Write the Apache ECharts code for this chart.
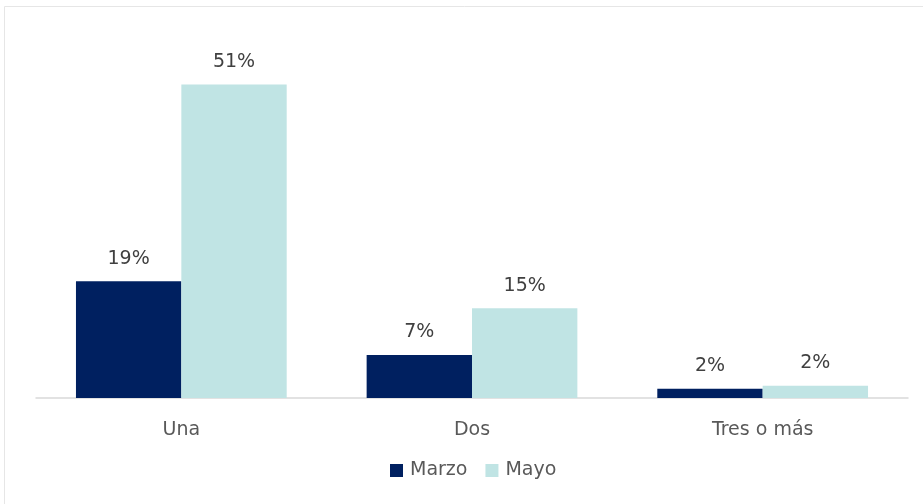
<!DOCTYPE html>
<html>
<head>
<meta charset="utf-8">
<script src="https://cdn.jsdelivr.net/npm/echarts@6/dist/echarts.min.js"></script>
<style>
    html, body {margin: 0; padding: 0; background: #fff;}
    #main {width: 923px; height: 504px;}
</style>
</head>
<body>
<div id="main"></div>
<script>
let categories = ['Una', 'Dos', 'Tres o más'];
let marzo = [19, 7, 1.5];
let mayo = [51, 14.6, 2];
let seriesNames = ['Marzo', 'Mayo'];

let myChart = echarts.init(document.getElementById('main'));

let font = 'DejaVu Sans';

let barLabel = {
    show: true,
    position: 'top',
    distance: 13,
    color: '#404040',
    fontSize: 19,
    fontFamily: font,
    formatter: (p) => Math.round(p.value) + '%'
};

let option = {
    animation: false,
    graphic: [{
        type: 'rect',
        shape: {x: 4.5, y: 6.5, width: 940, height: 520},
        style: {fill: 'none', stroke: '#e6e6e6', lineWidth: 1}
    }],
    legend: {
        data: seriesNames,
        left: 385,
        top: 456,
        itemWidth: 13,
        itemHeight: 13,
        itemGap: 18,
        icon: 'rect',
        textStyle: {color: '#595959', fontSize: 19, fontFamily: font, padding: [0, 0, 0, 2]}
    },
    grid: {left: 36, right: 15, top: 60, bottom: 106},
    xAxis: {
        type: 'category',
        data: categories,
        axisTick: {show: false},
        axisLine: {lineStyle: {color: '#d9d9d9', width: 1.5}},
        axisLabel: {color: '#595959', fontSize: 19, fontFamily: font, margin: 23}
    },
    yAxis: {
        type: 'value',
        min: 0,
        max: 55,
        show: false
    },
    series: [{
        name: seriesNames[0],
        type: 'bar',
        data: marzo,
        barGap: '0%',
        barCategoryGap: '27.5%',
        itemStyle: {color: '#002060'},
        label: barLabel
    }, {
        name: seriesNames[1],
        type: 'bar',
        data: mayo,
        itemStyle: {color: '#c0e4e4'},
        label: barLabel
    }]
};

myChart.setOption(option);
</script>
</body>
</html>
